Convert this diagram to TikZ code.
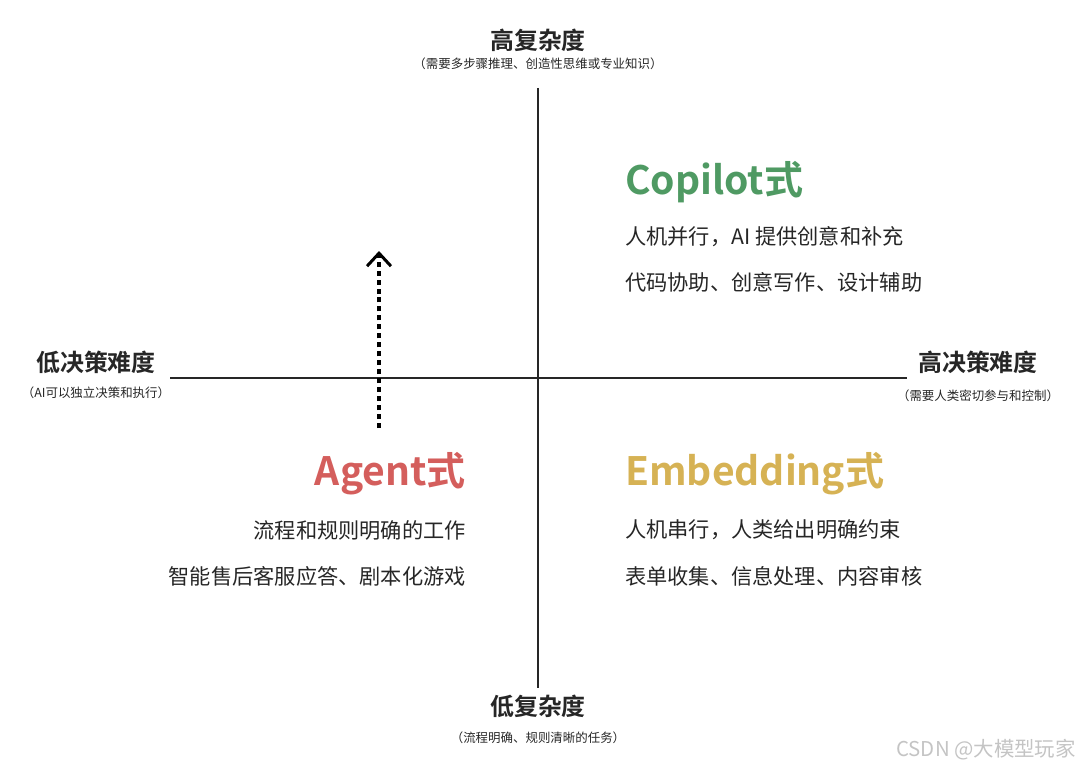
\documentclass[tikz,border=0pt]{standalone}
\usepackage{fontspec}
\setmainfont{Noto Sans CJK SC}[BoldFont={* Bold}]
\usepackage{xcolor}
\usetikzlibrary{arrows.meta}
\usetikzlibrary{positioning}

\definecolor{inkdark}{HTML}{262626}
\definecolor{copilotgreen}{HTML}{4F9A63}
\definecolor{agentred}{HTML}{D45E5C}
\definecolor{embedgold}{HTML}{D6B254}
\definecolor{markgray}{HTML}{C4C4C4}

\tikzset{
  axistitle/.style={font=\fontsize{24}{27}\selectfont\bfseries, text=inkdark, inner sep=0pt},
  axisnote/.style={font=\fontsize{12.5}{15}\selectfont, text=inkdark, inner sep=0pt},
  modetitle/.style={font=\fontsize{39.2}{44}\selectfont\bfseries, inner sep=0pt},
  modeline/.style={font=\fontsize{21.3}{25}\selectfont, text=inkdark, inner sep=0pt},
}

\begin{document}
\begin{tikzpicture}[x=1bp, y=-1bp, >=Stealth]
\useasboundingbox (0,0) rectangle (1080,768);

%axes
\coordinate (top) at (538, 88);
\coordinate (bottom) at (538, 688);
\coordinate (left) at (170, 378);
\coordinate (right) at (907, 378);
\draw[line width=1.3pt, inkdark] (top) -- (bottom);
\draw[line width=1.3pt, inkdark] (left) -- (right);

%axis labels
\node[axistitle] (hicx) at (538, 40) {高复杂度};
\node[axisnote] (hicxnote) at (538, 64) {（需要多步骤推理、创造性思维或专业知识）};
\node[axistitle] (locx) at (538, 706) {低复杂度};
\node[axisnote] (locxnote) at (538, 738) {（流程明确、规则清晰的任务）};
\node[axistitle] (lodec) at (96, 362) {低决策难度};
\node[axisnote] (lodecnote) at (96, 393) {（AI可以独立决策和执行）};
\node[axistitle] (hidec) at (978, 362) {高决策难度};
\node[axisnote] (hidecnote) at (978, 396) {（需要人类密切参与和控制）};

%dotted arrow
\coordinate (arrowfoot) at (379, 428);
\coordinate (arrowtip) at (379, 251);
\draw[line width=3.6pt, dash pattern=on 5pt off 4pt, black,
      -{Straight Barb[length=13pt, width=24pt, line width=3pt]}] (arrowfoot) -- (arrowtip);

%Copilot
\node[modetitle, text=copilotgreen, anchor=west] (copilot) at (625, 182) {Copilot式};
\node[modeline, anchor=west] (copilota) at (625, 237) {人机并行，AI 提供创意和补充};
\node[modeline, anchor=west] (copilotb) at (625, 282) {代码协助、创意写作、设计辅助};

%Agent
\node[modetitle, text=agentred, anchor=east] (agent) at (466, 474) {Agent式};
\node[modeline, anchor=east] (agenta) at (466, 530) {流程和规则明确的工作};
\node[modeline, anchor=east] (agentb) at (466, 576) {智能售后客服应答、剧本化游戏};

%Embedding
\node[modetitle, text=embedgold, anchor=west] (embed) at (625, 474) {Embedding式};
\node[modeline, anchor=west] (embeda) at (625, 530) {人机串行，人类给出明确约束};
\node[modeline, anchor=west] (embedb) at (625, 576) {表单收集、信息处理、内容审核};

%watermark
\node[font=\fontsize{20.5}{23}\selectfont, text=markgray, anchor=east, inner sep=0pt] (mark) at (1076, 750) {CSDN @大模型玩家};
\end{tikzpicture}
\end{document}
